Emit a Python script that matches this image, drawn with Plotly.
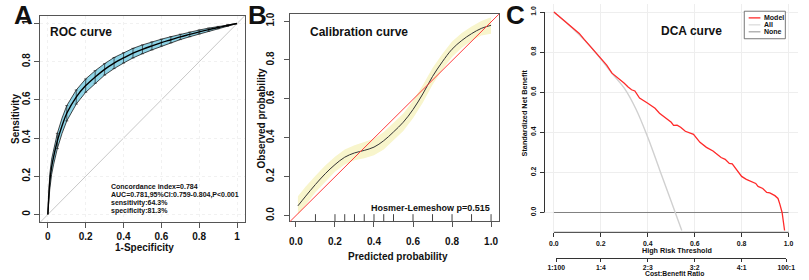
import plotly.graph_objects as go

W, H = 809, 280
FONT = "Liberation Sans, Arial, Helvetica, sans-serif"

# ---------------- Panel A : ROC ----------------
roc_fpr = [0, 0.01, 0.02, 0.03, 0.05, 0.075, 0.1, 0.15, 0.2, 0.25, 0.3, 0.35, 0.4,
           0.45, 0.5, 0.55, 0.6, 0.65, 0.7, 0.75, 0.8, 0.85, 0.9, 0.95, 1.0]
roc_tpr = [0, 0.17, 0.25, 0.30, 0.385, 0.465, 0.53, 0.615, 0.675, 0.72, 0.76, 0.793, 0.82,
           0.845, 0.865, 0.883, 0.90, 0.915, 0.93, 0.943, 0.956, 0.968, 0.979, 0.99, 1.0]
roc_upper = [0, 0.21, 0.29, 0.34, 0.425, 0.505, 0.57, 0.652, 0.71, 0.753, 0.79, 0.822, 0.847,
             0.87, 0.888, 0.904, 0.918, 0.931, 0.944, 0.955, 0.966, 0.976, 0.985, 0.994, 1.0]
roc_lower = [0, 0.13, 0.21, 0.26, 0.345, 0.425, 0.49, 0.578, 0.64, 0.687, 0.73, 0.764, 0.793,
             0.82, 0.842, 0.862, 0.882, 0.899, 0.916, 0.931, 0.946, 0.96, 0.973, 0.986, 1.0]
roc_ticks = [0, 0.2, 0.4, 0.6, 0.8, 1]
roc_ticklabels = ["0", "0.2", "0.4", "0.6", "0.8", "1"]
roc_stats = ["Concordance index=0.784",
             "AUC=0.781,95%CI:0.759-0.804,P<0.001",
             "sensitivity:64.3%",
             "specificity:81.3%"]

# ---------------- Panel B : Calibration ----------------
cal_pred = [0.01, 0.05, 0.10, 0.15, 0.20, 0.25, 0.30, 0.35, 0.40, 0.45, 0.50,
            0.55, 0.60, 0.65, 0.70, 0.75, 0.80, 0.85, 0.90, 0.95, 1.00]
cal_obs = [0.05, 0.10, 0.16, 0.215, 0.262, 0.30, 0.322, 0.335, 0.352, 0.385, 0.43,
           0.48, 0.545, 0.625, 0.715, 0.79, 0.855, 0.90, 0.935, 0.962, 0.978]
cal_lo = [0.005, 0.055, 0.12, 0.175, 0.225, 0.262, 0.285, 0.295, 0.31, 0.34, 0.385,
          0.435, 0.50, 0.58, 0.672, 0.75, 0.815, 0.862, 0.898, 0.925, 0.935]
cal_hi = [0.10, 0.15, 0.205, 0.258, 0.302, 0.34, 0.362, 0.378, 0.395, 0.43, 0.475,
          0.525, 0.59, 0.67, 0.758, 0.83, 0.895, 0.938, 0.972, 1.0, 1.02]
rug_x = [0.1, 0.2, 0.25, 0.3, 0.35, 0.4, 0.45, 0.5, 0.6, 0.7, 0.8, 0.9, 1.0]
cal_ticks = [0, 0.2, 0.4, 0.6, 0.8, 1.0]
cal_ticklabels = ["0.0", "0.2", "0.4", "0.6", "0.8", "1.0"]
hl_text = "Hosmer-Lemeshow p=0.515"

# ---------------- Panel C : DCA ----------------
dca_thr = [0.0, 0.03, 0.06, 0.08, 0.108, 0.13, 0.15, 0.165, 0.178, 0.20, 0.225, 0.2475,
           0.27, 0.30, 0.315, 0.331, 0.345, 0.365, 0.40, 0.431, 0.45, 0.485, 0.50, 0.51,
           0.525, 0.54, 0.56, 0.595, 0.6225, 0.65, 0.678, 0.69, 0.7125, 0.73, 0.7475,
           0.76, 0.775, 0.80, 0.82, 0.845, 0.86, 0.87, 0.879, 0.89, 0.907, 0.92, 0.9417,
           0.955, 0.9625, 0.9725, 0.983]
dca_model = [1.0, 0.97, 0.94, 0.92, 0.893, 0.862, 0.835, 0.82, 0.80, 0.772, 0.735, 0.695,
             0.675, 0.645, 0.627, 0.612, 0.606, 0.571, 0.545, 0.52, 0.495, 0.464, 0.45, 0.435,
             0.436, 0.425, 0.405, 0.39, 0.35, 0.325, 0.307, 0.295, 0.274, 0.265, 0.245,
             0.243, 0.22, 0.18, 0.165, 0.15, 0.145, 0.13, 0.125, 0.12, 0.10, 0.098, 0.084,
             0.07, 0.043, 0.0, -0.09]
all_thr = [0.0, 0.05, 0.10, 0.15, 0.20, 0.25, 0.30, 0.35, 0.40, 0.45, 0.50, 0.517, 0.545]
all_nb = [1.0, 0.95, 0.895, 0.835, 0.765, 0.69, 0.62, 0.515, 0.375, 0.215, 0.055, 0.0, -0.09]
none_thr = [0.0, 1.0]
none_nb = [0.0, 0.0]
dca_ticks = [0.0, 0.2, 0.4, 0.6, 0.8, 1.0]
dca_ticklabels = ["0.0", "0.2", "0.4", "0.6", "0.8", "1.0"]
cb_ticks = [1 / 101, 0.2, 0.4, 0.6, 0.8, 100 / 101]
cb_labels = ["1:100", "1:4", "2:3", "3:2", "4:1", "100:1"]
legend_names = ["Model", "All", "None"]
legend_colors = ["#ff2a2a", "#dcdcdc", "#a8a8a8"]


def px(x):
    return x / W


def py(y):
    return 1 - y / H


def bold(size, color="#111"):
    return dict(family=FONT, size=size, color=color, weight="bold")


fig = go.Figure()

# ---- A traces ----
fig.add_trace(go.Scatter(
    x=roc_fpr + roc_fpr[::-1], y=roc_upper + roc_lower[::-1],
    fill="toself", fillcolor="#8dd3e6", mode="lines",
    line=dict(color="#1a1a1a", width=0.8), hoverinfo="skip", showlegend=False,
    xaxis="x", yaxis="y"))
bar_idx = [i for i, f in enumerate(roc_fpr) if 0 < f < 1 and abs(f * 20 - round(f * 20)) < 1e-9]
fig.add_trace(go.Scatter(
    x=[roc_fpr[i] for i in bar_idx], y=[roc_tpr[i] for i in bar_idx], mode="markers",
    marker=dict(size=1, color="rgba(0,0,0,0)"),
    error_y=dict(type="data", symmetric=False,
                 array=[roc_upper[i] - roc_tpr[i] for i in bar_idx],
                 arrayminus=[roc_tpr[i] - roc_lower[i] for i in bar_idx],
                 color="#222", thickness=0.7, width=1.5),
    showlegend=False, xaxis="x", yaxis="y"))
fig.add_trace(go.Scatter(
    x=roc_fpr, y=roc_tpr, mode="lines", line=dict(color="#000", width=1.4, shape="spline"),
    showlegend=False, xaxis="x", yaxis="y"))

# ---- B traces ----
fig.add_trace(go.Scatter(
    x=cal_pred + cal_pred[::-1], y=cal_hi + cal_lo[::-1], fill="toself",
    fillcolor="#f8f5cc", mode="lines", line=dict(width=0, color="rgba(0,0,0,0)"),
    hoverinfo="skip", showlegend=False, xaxis="x2", yaxis="y2"))
fig.add_trace(go.Scatter(
    x=cal_pred, y=cal_obs, mode="lines", line=dict(color="#333", width=1, shape="spline"),
    showlegend=False, xaxis="x2", yaxis="y2"))

# ---- C traces ----
fig.add_trace(go.Scatter(x=none_thr, y=none_nb, mode="lines",
                         line=dict(color="#808080", width=1), name="None",
                         showlegend=False, xaxis="x3", yaxis="y3"))
fig.add_trace(go.Scatter(x=all_thr, y=all_nb, mode="lines",
                         line=dict(color="#d0d0d0", width=1.4, shape="spline"), name="All",
                         showlegend=False, xaxis="x3", yaxis="y3"))
fig.add_trace(go.Scatter(x=dca_thr, y=dca_model, mode="lines",
                         line=dict(color="#ff2a2a", width=1.3), name="Model",
                         showlegend=False, xaxis="x3", yaxis="y3"))
# carrier for the cost:benefit axis
fig.add_trace(go.Scatter(x=[cb_ticks[0]], y=[0], mode="markers",
                         marker=dict(size=1, color="rgba(0,0,0,0)"),
                         showlegend=False, hoverinfo="skip", xaxis="x4", yaxis="y4"))

frame = dict(showline=True, mirror=True, linecolor="#555", linewidth=1, ticks="outside",
             tickcolor="#555", zeroline=False)

fig.update_layout(
    width=W, height=H, margin=dict(l=0, r=0, t=0, b=0),
    paper_bgcolor="white", plot_bgcolor="white", showlegend=False,
    xaxis=dict(domain=[px(32), px(241)], range=[-0.04, 1.04], anchor="y",
               tickvals=roc_ticks, ticktext=roc_ticklabels, ticklen=5,
               tickfont=bold(10), showgrid=True, gridcolor="#f1f1f1", griddash="dot", **frame),
    yaxis=dict(domain=[py(221.7), py(14)], range=[-0.04, 1.04], anchor="x",
               tickvals=roc_ticks, ticktext=roc_ticklabels, ticklen=5, tickangle=-90,
               tickfont=bold(10), showgrid=True, gridcolor="#f1f1f1", griddash="dot", **frame),
    xaxis2=dict(domain=[px(287.5), px(501)], range=[-0.03, 1.04], anchor="y2",
                tickvals=cal_ticks, ticktext=cal_ticklabels, ticklen=5, ticklabelstandoff=6,
                tickfont=bold(10), showgrid=False, **frame),
    yaxis2=dict(domain=[py(221), py(12.3)], range=[-0.03, 1.035], anchor="x2",
                tickvals=cal_ticks, ticktext=cal_ticklabels, ticklen=5, tickangle=-90,
                ticklabelstandoff=6, tickfont=bold(10), showgrid=False, **frame),
    xaxis3=dict(domain=[px(547.7), px(806.9)], range=[-0.04, 1.04], anchor="y3",
                showline=False, zeroline=False,
                tickvals=dca_ticks, ticktext=dca_ticklabels, ticks="outside", ticklen=4,
                tickcolor="#333", tickfont=bold(6.9), ticklabelstandoff=0,
                showgrid=True, gridcolor="#eeeeee"),
    yaxis3=dict(domain=[py(232), py(2)], range=[-0.099, 1.04], anchor="x3",
                showline=False, zeroline=False, tickvals=dca_ticks, ticktext=dca_ticklabels,
                ticks="outside", ticklen=4, tickcolor="#333", tickangle=-90,
                tickfont=bold(6.9), ticklabelstandoff=1, showgrid=True, gridcolor="#eeeeee"),
    xaxis4=dict(domain=[px(559.7), px(794.9)], range=[cb_ticks[0], cb_ticks[-1]], anchor="y4",
                showline=True, linecolor="#333", linewidth=1, zeroline=False, showgrid=False,
                tickvals=cb_ticks, ticktext=cb_labels, ticks="outside", ticklen=3,
                tickcolor="#333", tickfont=bold(6.8), ticklabelstandoff=0),
    yaxis4=dict(domain=[py(258), py(256)], range=[-1, 1], anchor="x4", visible=False),
)

shapes = []
# reference diagonals
shapes.append(dict(type="line", xref="x domain", yref="y domain", x0=0, y0=0, x1=1, y1=1,
                   line=dict(color="#c8c8c8", width=1), layer="below"))
shapes.append(dict(type="line", xref="x2 domain", yref="y2 domain", x0=0, y0=0, x1=1, y1=1,
                   line=dict(color="#ff3b3b", width=1), layer="above"))
# rug marks on calibration plot
for v in rug_x:
    shapes.append(dict(type="line", xref="x2", yref="y2 domain", x0=v, x1=v, y0=0, y1=0.035,
                       line=dict(color="#444", width=1)))
# DCA axis lines (span only the labelled range, as in base graphics)
shapes.append(dict(type="line", xref="x3 domain", yref="y3", x0=0, x1=0,
                   y0=dca_ticks[0], y1=dca_ticks[-1], line=dict(color="#333", width=1)))
shapes.append(dict(type="line", xref="x3", yref="y3 domain", x0=dca_ticks[0], x1=dca_ticks[-1],
                   y0=0, y1=0, line=dict(color="#333", width=1)))
# DCA legend box
shapes.append(dict(type="rect", xref="paper", yref="paper", x0=px(752), x1=px(794),
                   y0=py(37), y1=py(9.3), line=dict(color="#555", width=0.8),
                   fillcolor="white"))
leg_rows = [16, 23, 30]
for yy, c in zip(leg_rows, legend_colors):
    shapes.append(dict(type="line", xref="paper", yref="paper", x0=px(756.5), x1=px(768.5),
                       y0=py(yy), y1=py(yy), line=dict(color=c, width=1.3)))
fig.update_layout(shapes=shapes)

ann = []


def add_text(text, x, y, size, xanchor="center", angle=0):
    ann.append(dict(text=text, x=px(x), y=py(y), xref="paper", yref="paper",
                    xanchor=xanchor, yanchor="middle", showarrow=False, font=bold(size),
                    textangle=angle, borderpad=0))


# panel letters
add_text("A", 15, 13, 26)
add_text("B", 254, 13, 26)
add_text("C", 518, 13, 26)
# titles
add_text("ROC curve", 41, 30, 12, xanchor="left")
add_text("Calibration curve", 307, 30, 12, xanchor="left")
add_text("DCA curve", 698.5, 29.5, 12)
# axis titles
add_text("1-Specificity", 139, 247.5, 10)
add_text("Sensitivity", 6, 118, 10, angle=-90)
add_text("Predicted probability", 398, 256, 10)
add_text("Observed probability", 258, 117, 10, angle=-90)
add_text("High Risk Threshold", 683, 250, 7.2)
add_text("Cost:Benefit Ratio", 681, 273.8, 6.8)
add_text("Standardized Net Benefit", 527, 112, 7.3, angle=-90)
# stats
for i, s in enumerate(roc_stats):
    add_text(s, 103, 185.6 + i * 8.4, 7.0, xanchor="left")
ann.append(dict(text=hl_text, x=px(494), y=py(207), xref="paper", yref="paper",
                xanchor="right", yanchor="middle", showarrow=False, font=bold(9)))
# legend text
for yy, n in zip(leg_rows, legend_names):
    add_text(n, 771, yy, 7, xanchor="left")

fig.update_layout(annotations=ann)
# remove the page body's default 8px margin and the hover toolbar
fig.write_html("out.html", config={"displayModeBar": False},
               post_script="document.body.style.margin='0px';")
